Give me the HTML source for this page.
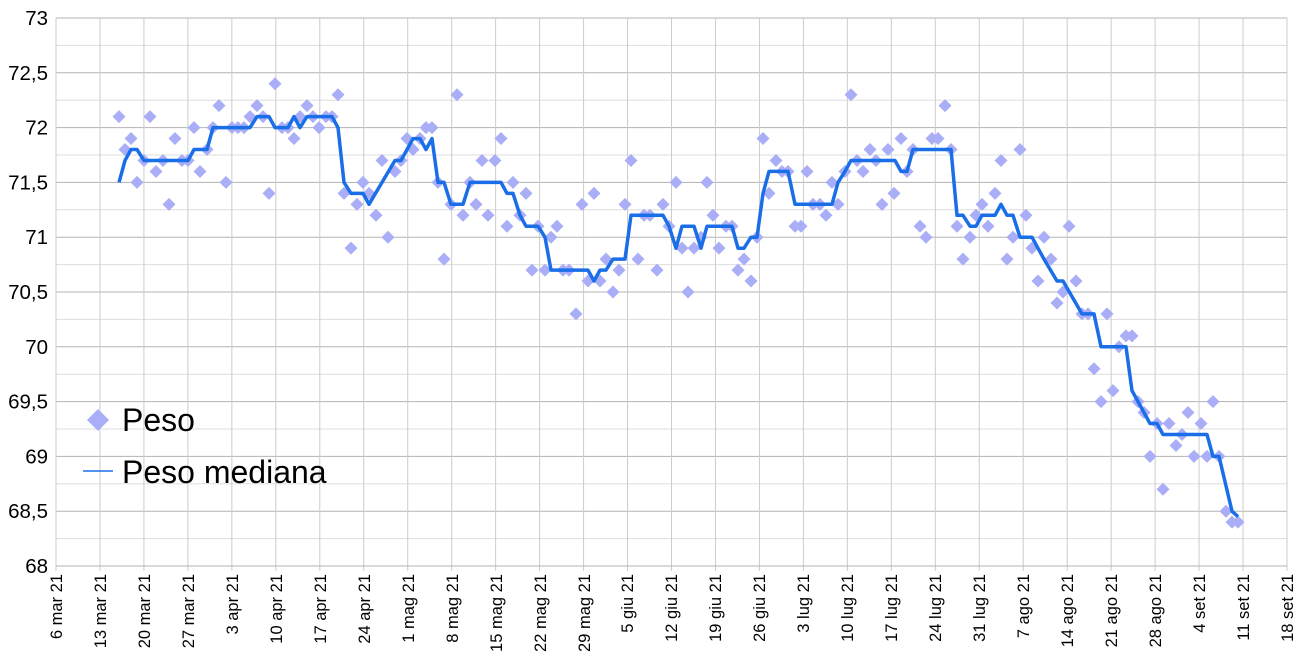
<!DOCTYPE html>
<html><head><meta charset="utf-8"><style>
html,body{margin:0;padding:0;background:#fff;}
svg{display:block;font-family:"Liberation Sans",Arial,sans-serif;}
</style></head><body>
<svg id="c" width="1307" height="662" viewBox="0 0 1307 662" xmlns="http://www.w3.org/2000/svg">
<g id="grid"></g>
<g font-size="20.5" text-anchor="end" fill="#000">
<text x="48" y="25">73</text>
<text x="48" y="79.8">72,5</text>
<text x="48" y="134.6">72</text>
<text x="48" y="189.4">71,5</text>
<text x="48" y="244.2">71</text>
<text x="48" y="299">70,5</text>
<text x="48" y="353.8">70</text>
<text x="48" y="408.6">69,5</text>
<text x="48" y="463.4">69</text>
<text x="48" y="518.2">68,5</text>
<text x="48" y="573">68</text>
</g>
<g id="xl" font-size="16.5" text-anchor="end" fill="#000">
<text transform="translate(62,574) rotate(-90)">6 mar 21</text>
<text transform="translate(106,574) rotate(-90)">13 mar 21</text>
<text transform="translate(150,574) rotate(-90)">20 mar 21</text>
<text transform="translate(194,574) rotate(-90)">27 mar 21</text>
<text transform="translate(238,574) rotate(-90)">3 apr 21</text>
<text transform="translate(282,574) rotate(-90)">10 apr 21</text>
<text transform="translate(326,574) rotate(-90)">17 apr 21</text>
<text transform="translate(370,574) rotate(-90)">24 apr 21</text>
<text transform="translate(414,574) rotate(-90)">1 mag 21</text>
<text transform="translate(458,574) rotate(-90)">8 mag 21</text>
<text transform="translate(502,574) rotate(-90)">15 mag 21</text>
<text transform="translate(546,574) rotate(-90)">22 mag 21</text>
<text transform="translate(590,574) rotate(-90)">29 mag 21</text>
<text transform="translate(633,574) rotate(-90)">5 giu 21</text>
<text transform="translate(677,574) rotate(-90)">12 giu 21</text>
<text transform="translate(721,574) rotate(-90)">19 giu 21</text>
<text transform="translate(765,574) rotate(-90)">26 giu 21</text>
<text transform="translate(809,574) rotate(-90)">3 lug 21</text>
<text transform="translate(853,574) rotate(-90)">10 lug 21</text>
<text transform="translate(897,574) rotate(-90)">17 lug 21</text>
<text transform="translate(941,574) rotate(-90)">24 lug 21</text>
<text transform="translate(985,574) rotate(-90)">31 lug 21</text>
<text transform="translate(1029,574) rotate(-90)">7 ago 21</text>
<text transform="translate(1073,574) rotate(-90)">14 ago 21</text>
<text transform="translate(1117,574) rotate(-90)">21 ago 21</text>
<text transform="translate(1161,574) rotate(-90)">28 ago 21</text>
<text transform="translate(1205,574) rotate(-90)">4 set 21</text>
<text transform="translate(1249,574) rotate(-90)">11 set 21</text>
<text transform="translate(1293,574) rotate(-90)">18 set 21</text>
</g>
<g id="data"></g>
<g>
<polygon points="98,409 109,420 98,431 87,420" fill="#aaaef7"/>
<text x="122" y="431" font-size="32">Peso</text>
<line x1="83" y1="471" x2="113" y2="471" stroke="#1a6ee8" stroke-width="1.6"/>
<text x="122" y="483" font-size="32">Peso mediana</text>
</g>
</svg>
<script>
var NS="http://www.w3.org/2000/svg";
function el(t,a,p){var e=document.createElementNS(NS,t);for(var k in a)e.setAttribute(k,a[k]);p.appendChild(e);return e;}
var L=56,R=1287,T=18,B=566;
function Y(v){return T+(73-v)*(B-T)/5;}
var g=document.getElementById('grid');
for(var i=0;i<=20;i++){var y=Y(73-i*0.25);el('line',{x1:L,x2:R,y1:y,y2:y,stroke:(i%2==0)?'#b3b3b3':'#dddddd','stroke-width':1},g);}
var W=(R-L)/28;
for(var i=0;i<=28;i++){var x=L+i*W;el('line',{x1:x,x2:x,y1:T,y2:B+5,stroke:'#cccccc','stroke-width':1},g);}
el('line',{x1:L,x2:R,y1:B,y2:B,stroke:'#b3b3b3','stroke-width':1},g);
var pts=[[119,72.1],[125,71.8],[131,71.9],[137,71.5],[144,71.7],[150,72.1],[156,71.6],[163,71.7],[169,71.3],[175,71.9],[182,71.7],[188,71.7],[194,72.0],[200,71.6],[207,71.8],[213,72.0],[219,72.2],[226,71.5],[232,72.0],[238,72.0],[244,72.0],[250,72.1],[257,72.2],[263,72.1],[269,71.4],[275,72.4],[282,72.0],[288,72.0],[294,71.9],[300,72.1],[307,72.2],[313,72.1],[319,72.0],[326,72.1],[332,72.1],[338,72.3],[344,71.4],[351,70.9],[357,71.3],[363,71.5],[369,71.4],[376,71.2],[382,71.7],[388,71.0],[395,71.6],[401,71.7],[407,71.9],[413,71.8],[420,71.9],[426,72.0],[432,72.0],[438,71.5],[444,70.8],[451,71.3],[457,72.3],[463,71.2],[470,71.5],[476,71.3],[482,71.7],[488,71.2],[495,71.7],[501,71.9],[507,71.1],[513,71.5],[520,71.2],[526,71.4],[532,70.7],[538,71.1],[545,70.7],[551,71.0],[557,71.1],[563,70.7],[569,70.7],[576,70.3],[582,71.3],[588,70.6],[594,71.4],[600,70.6],[606,70.8],[613,70.5],[619,70.7],[625,71.3],[631,71.7],[638,70.8],[644,71.2],[650,71.2],[657,70.7],[663,71.3],[669,71.1],[676,71.5],[682,70.9],[688,70.5],[694,70.9],[701,71.0],[707,71.5],[713,71.2],[719,70.9],[726,71.1],[732,71.1],[738,70.7],[744,70.8],[751,70.6],[757,71.0],[763,71.9],[769,71.4],[776,71.7],[782,71.6],[788,71.6],[795,71.1],[801,71.1],[807,71.6],[813,71.3],[820,71.3],[826,71.2],[832,71.5],[838,71.3],[845,71.6],[851,72.3],[857,71.7],[863,71.6],[870,71.8],[876,71.7],[882,71.3],[888,71.8],[894,71.4],[901,71.9],[907,71.6],[913,71.8],[920,71.1],[926,71.0],[932,71.9],[938,71.9],[945,72.2],[951,71.8],[957,71.1],[963,70.8],[970,71.0],[976,71.2],[982,71.3],[988,71.1],[995,71.4],[1001,71.7],[1007,70.8],[1013,71.0],[1020,71.8],[1026,71.2],[1032,70.9],[1038,70.6],[1044,71.0],[1051,70.8],[1057,70.4],[1063,70.5],[1069,71.1],[1076,70.6],[1082,70.3],[1088,70.3],[1094,69.8],[1101,69.5],[1107,70.3],[1113,69.6],[1119,70.0],[1126,70.1],[1132,70.1],[1138,69.5],[1144,69.4],[1150,69.0],[1157,69.3],[1163,68.7],[1169,69.3],[1176,69.1],[1182,69.2],[1188,69.4],[1194,69.0],[1201,69.3],[1207,69.0],[1213,69.5],[1219,69.0],[1226,68.5],[1232,68.4],[1238,68.4]];
var med=[[119,71.5],[125,71.7],[131,71.8],[137,71.8],[144,71.7],[188,71.7],[194,71.8],[207,71.8],[213,72.0],[250,72.0],[257,72.1],[269,72.1],[275,72.0],[288,72.0],[294,72.1],[300,72.0],[307,72.1],[332,72.1],[338,72.0],[344,71.5],[351,71.4],[363,71.4],[369,71.3],[395,71.7],[401,71.7],[413,71.9],[420,71.9],[426,71.8],[432,71.9],[438,71.5],[444,71.5],[451,71.3],[463,71.3],[470,71.5],[501,71.5],[507,71.4],[513,71.4],[520,71.2],[526,71.1],[538,71.1],[545,71.0],[551,70.7],[588,70.7],[594,70.6],[600,70.7],[606,70.7],[613,70.8],[625,70.8],[631,71.2],[663,71.2],[669,71.1],[676,70.9],[682,71.1],[694,71.1],[701,70.9],[707,71.1],[732,71.1],[738,70.9],[744,70.9],[751,71.0],[757,71.0],[763,71.4],[769,71.6],[788,71.6],[795,71.3],[832,71.3],[838,71.5],[845,71.6],[851,71.7],[895,71.7],[901,71.6],[907,71.6],[913,71.8],[951,71.8],[957,71.2],[963,71.2],[970,71.1],[976,71.1],[982,71.2],[995,71.2],[1001,71.3],[1007,71.2],[1013,71.2],[1020,71.0],[1032,71.0],[1038,70.9],[1044,70.8],[1057,70.6],[1063,70.6],[1082,70.3],[1094,70.3],[1101,70.0],[1126,70.0],[1132,69.6],[1138,69.5],[1150,69.3],[1157,69.3],[1163,69.2],[1207,69.2],[1213,69.0],[1219,69.0],[1232,68.5],[1238,68.45]];
var d=document.getElementById('data');
var s=6.5;
pts.forEach(function(p){var x=p[0],y=Y(p[1]);el('polygon',{points:x+','+(y-s)+' '+(x+s)+','+y+' '+x+','+(y+s)+' '+(x-s)+','+y,fill:'#aaaef7'},d);});
el('polyline',{points:med.map(function(p){return p[0]+','+Y(p[1]).toFixed(1);}).join(' '),fill:'none',stroke:'#1a6ee8','stroke-width':3.5,'stroke-linejoin':'round'},d);
</script>
</body></html>
